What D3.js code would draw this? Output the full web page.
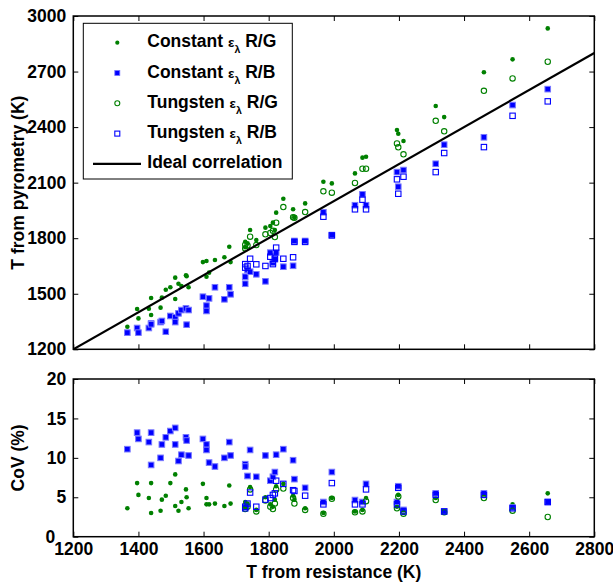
<!DOCTYPE html>
<html>
<head>
<meta charset="utf-8">
<script src="https://cdn.jsdelivr.net/npm/d3@7"></script>
<style>
  html, body { margin: 0; padding: 0; background: #fff; }
  svg { display: block; }
  text { font-family: "Liberation Sans", Arial, sans-serif; font-weight: bold; fill: #000; }
</style>
</head>
<body>
<svg id="chart" width="613" height="584"></svg>
<script>
// ---- data ----
const resistanceT = [1366,1396,1400,1432,1439,1439,1468,1472,1484,1498,1513,1513,1523,1532,1546,1548,1554,1598,1609,1609,1617,1635,1664,1679,1683,
  1728,1728,1735,1743,1762,1790,1805,1813,1819,1823,1845,1875,1879,1912,1968,1994,2065,2088,2099,2194,2198,2214,2313,2339,2461,2549,2657];
const constRG = [1322,1418,1367,1419,1477,1385,1425,1479,1522,1535,1587,1472,1554,1542,1600,1595,1535,1671,1677,1592,1614,1682,1697,1754,1671,
  1751,1781,1772,1844,1790,1857,1866,1884,1844,1938,2013,1956,1913,1988,2105,2096,2150,2235,2240,2384,2364,2325,2514,2454,2696,2766,2933];
const constRB = [1290,1315,1290,1315,1340,1335,1347,1353,1295,1380,1373,1347,1394,1412,1421,1333,1412,1484,1436,1407,1475,1535,1470,1535,1497,
  1592,1554,1628,1619,1605,1567,1722,1668,1686,1722,1646,1651,1785,1785,1940,1817,1978,2037,1978,2157,2078,2168,2202,2305,2345,2519,2605];
const nA = null;
const tungRG = [nA,nA,nA,nA,nA,nA,nA,nA,nA,nA,nA,nA,nA,nA,nA,nA,nA,nA,nA,nA,nA,nA,nA,nA,nA,
  1745,1765,1760,1808,1763,1821,1828,1840,1806,1884,1968,1913,1911,1941,2053,2046,2098,2175,2175,2312,2291,2253,2434,2377,2596,2663,2753];
const tungRB = [nA,nA,nA,nA,nA,nA,nA,nA,nA,nA,nA,nA,nA,nA,nA,nA,nA,nA,nA,nA,nA,nA,nA,nA,nA,
  1660,1641,1650,1689,1659,1650,1700,1660,1690,1749,1689,1697,1780,1780,1916,1815,1956,2008,1956,2118,2040,2132,2157,2260,2292,2461,2539];
const covConstRG = [3.6,6.8,5.3,4.9,6.8,3.0,3.3,4.7,5.2,6.8,7.9,3.9,3.3,4.4,6.0,5.0,3.6,6.7,4.9,4.1,4.1,4.2,3.9,6.5,4.2,
  4.4,3.8,4.2,6.3,3.4,5.0,4.1,3.8,4.7,6.4,6.7,5.2,4.7,3.6,3.0,4.9,3.2,3.4,4.9,3.8,5.3,3.0,4.9,3.2,5.2,4.1,5.5];
const covConstRB = [11.1,13.2,12.4,12.0,13.2,9.1,10.0,11.7,12.6,13.4,13.8,11.7,9.6,10.4,12.6,12.2,10.3,12.4,11.7,11.0,9.4,8.9,10.0,12.0,10.3,
  9.2,8.9,7.7,11.0,7.6,10.3,7.1,7.6,8.2,10.4,11.1,9.7,7.3,6.2,4.4,8.2,4.65,4.4,6.7,4.4,6.4,3.4,5.5,3.2,5.5,3.7,4.4];
const covTungRG = [nA,nA,nA,nA,nA,nA,nA,nA,nA,nA,nA,nA,nA,nA,nA,nA,nA,nA,nA,nA,nA,nA,nA,nA,nA,
  3.9,3.5,3.8,6.0,3.2,4.6,3.8,3.5,4.2,6.0,6.1,4.9,4.2,3.4,2.9,4.8,3.1,3.2,4.5,3.6,5.1,2.9,4.65,3.1,4.9,3.3,2.5];
const covTungRB = [nA,nA,nA,nA,nA,nA,nA,nA,nA,nA,nA,nA,nA,nA,nA,nA,nA,nA,nA,nA,nA,nA,nA,nA,nA,
  3.8,3.6,4.2,5.6,3.8,4.7,4.9,5.3,5.5,7.1,6.7,5.9,5.8,5.2,4.1,6.8,4.1,4.1,6.0,4.1,6.2,3.2,5.3,3.2,5.3,3.6,4.4];
const ideal = [1200, 2800];
const xTicks = [1200,1400,1600,1800,2000,2200,2400,2600,2800];
const yTopTicks = [1200,1500,1800,2100,2400,2700,3000];
const yBotTicks = [0,5,10,15,20];
const legendLabels = ["Constant", "Constant", "Tungsten", "Tungsten", "Ideal correlation"];
const legendSuffix = ["R/G", "R/B", "R/G", "R/B", null];

// ---- layout ----
const GREEN = "#008000", BLUE = "#0000ff";
const L = 73.3, R = 594.3;
const topT = 16, topB = 349.3, botT = 379, botB = 536.7;
const FS = 17.5;

const svg = d3.select("#chart");
svg.append("rect").attr("width", 613).attr("height", 584).attr("fill", "#fff");

const x = d3.scaleLinear().domain([1200, 2800]).range([L, R]);
const yTop = d3.scaleLinear().domain([1200, 3000]).range([topB, topT]);
const yBot = d3.scaleLinear().domain([0, 20]).range([botB, botT]);

function frameAxes(g, y, yTicks, showX, y0, y1) {
  g.append("g").attr("transform", `translate(0,${y0})`)
    .call(d3.axisBottom(x).tickValues(xTicks).tickSizeInner(-5).tickSizeOuter(0).tickPadding(6)
      .tickFormat(showX ? d3.format("d") : () => ""));
  g.append("g").attr("transform", `translate(0,${y1})`)
    .call(d3.axisTop(x).tickValues(xTicks).tickSizeInner(-5).tickSizeOuter(0).tickFormat(() => ""));
  const gl = g.append("g").attr("transform", `translate(${L},0)`)
    .call(d3.axisLeft(y).tickValues(yTicks).tickSizeInner(-5).tickSizeOuter(0).tickPadding(7).tickFormat(d3.format("d")));
  g.append("g").attr("transform", `translate(${R},0)`)
    .call(d3.axisRight(y).tickValues(yTicks).tickSizeInner(-5).tickSizeOuter(0).tickFormat(() => ""));
  g.selectAll(".domain").remove();
  g.selectAll(".tick line").attr("stroke", "#000").attr("stroke-width", 1);
  g.selectAll(".tick text").attr("font-size", FS).attr("font-family", '"Liberation Sans", Arial, sans-serif')
    .attr("font-weight", "bold").attr("fill", "#000");
  // as in the reference, the lowest y label sits further left, clear of the first x label
  if (showX) gl.selectAll(".tick text").filter(d => d === yTicks[0]).attr("x", -18);
  g.append("rect").attr("x", L).attr("y", y1).attr("width", R - L).attr("height", y0 - y1)
    .attr("fill", "none").attr("stroke", "#000").attr("stroke-width", 1.5);
}

function pairs(xs, ys) { return xs.map((d, i) => [d, ys[i]]).filter(d => d[1] != null); }
function drawDots(g, xs, ys, y) {
  g.selectAll(null).data(pairs(xs, ys)).join("circle")
    .attr("cx", d => x(d[0])).attr("cy", d => y(d[1])).attr("r", 2.3).attr("fill", GREEN);
}
function drawFilledSq(g, xs, ys, y) {
  const s = 5.6;
  g.selectAll(null).data(pairs(xs, ys)).join("rect")
    .attr("x", d => x(d[0]) - s / 2).attr("y", d => y(d[1]) - s / 2).attr("width", s).attr("height", s)
    .attr("fill", BLUE).attr("stroke", "#7878ff").attr("stroke-width", 1);
}
function drawOpenCirc(g, xs, ys, y) {
  g.selectAll(null).data(pairs(xs, ys)).join("circle")
    .attr("cx", d => x(d[0])).attr("cy", d => y(d[1])).attr("r", 2.7)
    .attr("fill", "none").attr("stroke", GREEN).attr("stroke-width", 1.1);
}
function drawOpenSq(g, xs, ys, y) {
  const s = 5.4;
  g.selectAll(null).data(pairs(xs, ys)).join("rect")
    .attr("x", d => x(d[0]) - s / 2).attr("y", d => y(d[1]) - s / 2).attr("width", s).attr("height", s)
    .attr("fill", "none").attr("stroke", BLUE).attr("stroke-width", 1.1);
}

// ---- top panel ----
const gTop = svg.append("g");
const clipTop = svg.append("clipPath").attr("id", "clipTop");
clipTop.append("rect").attr("x", L).attr("y", topT).attr("width", R - L).attr("height", topB - topT);
const pTop = gTop.append("g").attr("clip-path", "url(#clipTop)");
drawDots(pTop, resistanceT, constRG, yTop);
drawFilledSq(pTop, resistanceT, constRB, yTop);
drawOpenCirc(pTop, resistanceT, tungRG, yTop);
drawOpenSq(pTop, resistanceT, tungRB, yTop);
pTop.append("line")
  .attr("x1", x(ideal[0])).attr("y1", yTop(ideal[0])).attr("x2", x(ideal[1])).attr("y2", yTop(ideal[1]))
  .attr("stroke", "#000").attr("stroke-width", 2.2);
frameAxes(gTop, yTop, yTopTicks, false, topB, topT);

// legend
const lg = svg.append("g");
lg.append("rect").attr("x", 83.3).attr("y", 23.3).attr("width", 209).attr("height", 155.7)
  .attr("fill", "#fff").attr("stroke", "#000").attr("stroke-width", 1);
const rowY = d3.range(5).map(i => 42.7 + i * 30.3);
const mx = 117.3;
lg.append("circle").attr("cx", mx).attr("cy", rowY[0]).attr("r", 2.1).attr("fill", GREEN);
lg.append("rect").attr("x", mx - 2.5).attr("y", rowY[1] - 2.5).attr("width", 5).attr("height", 5)
  .attr("fill", BLUE).attr("stroke", "#7878ff").attr("stroke-width", 0.8);
lg.append("circle").attr("cx", mx).attr("cy", rowY[2]).attr("r", 2.5).attr("fill", "none").attr("stroke", GREEN).attr("stroke-width", 1.1);
lg.append("rect").attr("x", mx - 2.5).attr("y", rowY[3] - 2.5).attr("width", 5).attr("height", 5)
  .attr("fill", "none").attr("stroke", BLUE).attr("stroke-width", 1.1);
lg.append("line").attr("x1", 93).attr("x2", 141).attr("y1", rowY[4]).attr("y2", rowY[4])
  .attr("stroke", "#000").attr("stroke-width", 2.2);
legendLabels.forEach((lab, i) => {
  const t = lg.append("text").attr("x", 147.3).attr("y", rowY[i] + 4.5).attr("font-size", FS);
  if (legendSuffix[i]) {
    t.append("tspan").text(lab + " ");
    t.append("tspan").attr("font-size", 13.5).text("ε");
    t.append("tspan").attr("font-size", 10.5).attr("dy", 6).text("λ");
    t.append("tspan").attr("dy", -6).text(" " + legendSuffix[i]);
  } else {
    t.text(lab);
  }
});

// ---- bottom panel ----
const gBot = svg.append("g");
const clipBot = svg.append("clipPath").attr("id", "clipBot");
clipBot.append("rect").attr("x", L).attr("y", botT).attr("width", R - L).attr("height", botB - botT);
const pBot = gBot.append("g").attr("clip-path", "url(#clipBot)");
drawDots(pBot, resistanceT, covConstRG, yBot);
drawFilledSq(pBot, resistanceT, covConstRB, yBot);
drawOpenCirc(pBot, resistanceT, covTungRG, yBot);
drawOpenSq(pBot, resistanceT, covTungRB, yBot);
frameAxes(gBot, yBot, yBotTicks, true, botB, botT);

// ---- axis titles ----
svg.append("text").attr("transform", `translate(24,${(topT + topB) / 2}) rotate(-90)`)
  .attr("text-anchor", "middle").attr("font-size", FS).text("T from pyrometry (K)");
svg.append("text").attr("transform", `translate(24,${(botT + botB) / 2}) rotate(-90)`)
  .attr("text-anchor", "middle").attr("font-size", FS).text("CoV (%)");
svg.append("text").attr("x", (L + R) / 2).attr("y", 578).attr("text-anchor", "middle")
  .attr("font-size", FS).text("T from resistance (K)");
</script>
</body>
</html>
